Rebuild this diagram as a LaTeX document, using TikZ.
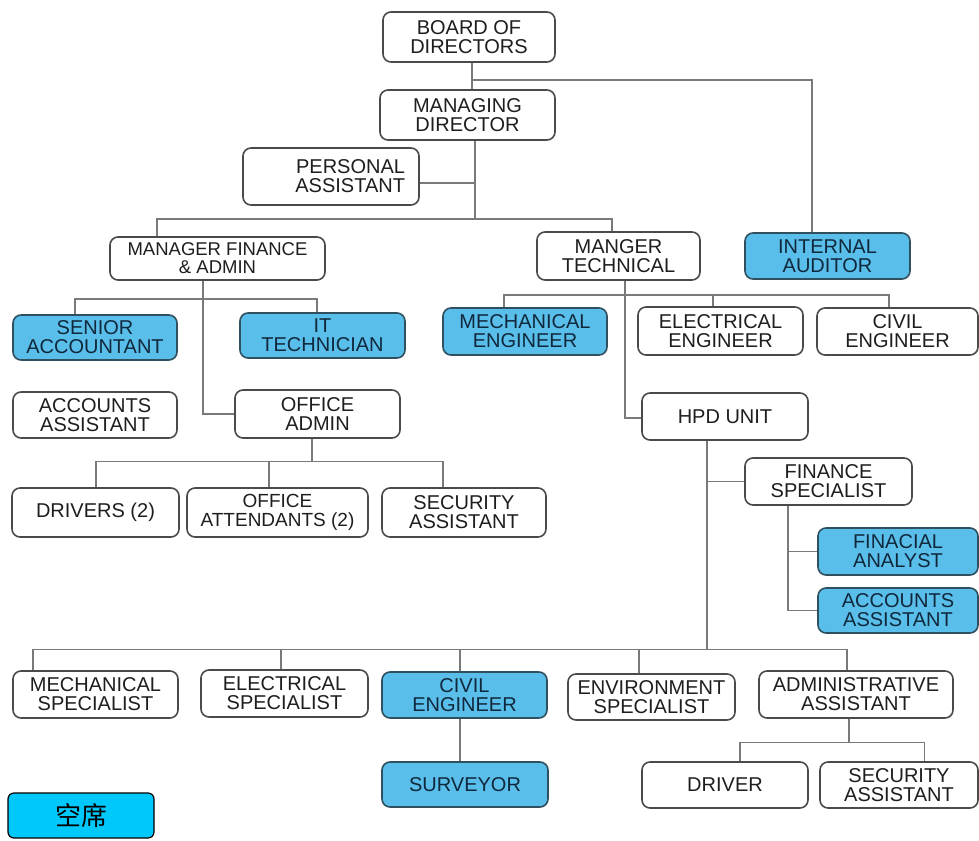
\documentclass[tikz,border=0pt]{standalone}
\usepackage{fontspec}
\setmainfont{Liberation Sans}
\newfontfamily\cjkfont{Noto Sans CJK SC}
\definecolor{boxline}{HTML}{4A4A4A}
\definecolor{linkcol}{HTML}{7A7A7A}
\definecolor{hiblue}{HTML}{5ABEEA}
\definecolor{hiline}{HTML}{30505F}
\definecolor{textcol}{HTML}{1E1E1E}
\definecolor{hitext}{HTML}{10283C}
\definecolor{vaccyan}{HTML}{00C8FA}
\newcommand\boxfont{\fontsize{20}{19}\selectfont}
\tikzset{
  box/.style={draw=boxline, line width=1.6pt, rounded corners=8pt, fill=white,
    align=center, inner xsep=2pt, inner ysep=0pt, font=\boxfont, text=textcol},
  hibox/.style={box, fill=hiblue, draw=hiline, text=hitext},
  sz/.style 2 args={minimum width=#1pt, minimum height=#2pt},
  link/.style={draw=linkcol, line width=1.1pt},
}
\begin{document}
\begin{tikzpicture}[x=1pt, y=-1pt]
\useasboundingbox (0,0) rectangle (979,840);

% ---- boxes ----
\node[box, sz={172}{50}] (board) at (469,37) {BOARD OF\\DIRECTORS};
\node[box, sz={175}{50}] (md) at (467.5,115) {MANAGING\\DIRECTOR};
\node[box, sz={176}{57}, text width=148pt, align=right, inner xsep=14pt] (pa) at (331,176.5) {PERSONAL\\ASSISTANT};
\node[box, sz={215}{43}, font=\fontsize{18.5}{18}\selectfont] (mfa) at (217.5,258.5) {MANAGER FINANCE\\\& ADMIN};
\node[box, sz={163}{48}] (mt) at (618.5,256) {MANGER\\TECHNICAL};
\node[hibox, sz={165}{46}] (ia) at (827.5,256) {INTERNAL\\AUDITOR};

\node[hibox, sz={164}{45}] (sa) at (95,337.5) {SENIOR\\ACCOUNTANT};
\node[hibox, sz={165}{45}] (it) at (322.5,335.5) {IT\\TECHNICIAN};
\node[hibox, sz={164}{47}] (me) at (525,331.5) {MECHANICAL\\ENGINEER};
\node[box, sz={165}{48}] (ee) at (720.5,331) {ELECTRICAL\\ENGINEER};
\node[box, sz={161}{47}] (ce) at (897.5,331.5) {CIVIL\\ENGINEER};

\node[box, sz={164}{46}] (aa) at (95,415) {ACCOUNTS\\ASSISTANT};
\node[box, sz={165}{48}] (oa) at (317.5,414) {OFFICE\\ADMIN};
\node[box, sz={166}{47}] (hpd) at (725,416.5) {HPD UNIT};

\node[box, sz={167}{49}] (drv) at (95.5,512.5) {DRIVERS (2)};
\node[box, sz={181}{49}, font=\fontsize{19}{19}\selectfont] (att) at (277.5,512.5) {OFFICE\\ATTENDANTS (2)};
\node[box, sz={164}{49}] (sec) at (464,512.5) {SECURITY\\ASSISTANT};

\node[box, sz={167}{47}] (fs) at (828.5,481.5) {FINANCE\\SPECIALIST};
\node[hibox, sz={160}{47}] (fa) at (898,551.5) {FINACIAL\\ANALYST};
\node[hibox, sz={160}{45}] (aa2) at (898,610.5) {ACCOUNTS\\ASSISTANT};

\node[box, sz={165}{47}] (ms) at (95.5,694.5) {MECHANICAL\\SPECIALIST};
\node[box, sz={167}{47}] (es) at (284.5,693.5) {ELECTRICAL\\SPECIALIST};
\node[hibox, sz={165}{46}] (ce2) at (464.5,695) {CIVIL\\ENGINEER};
\node[box, sz={167}{46}] (env) at (651.5,697) {ENVIRONMENT\\SPECIALIST};
\node[box, sz={194}{47}] (adm) at (856,694.5) {ADMINISTRATIVE\\ASSISTANT};

\node[hibox, sz={166}{45}] (sur) at (465,784.5) {SURVEYOR};
\node[box, sz={166}{46}] (drv2) at (725,785) {DRIVER};
\node[box, sz={158}{46}] (sec2) at (899,785) {SECURITY\\ASSISTANT};

\node[draw=black, line width=1.2pt, fill=vaccyan, rounded corners=6pt,
      sz={146}{45}, font=\cjkfont\fontsize{26}{28}\selectfont] (vac) at (81,815.5) {空席};

% ---- connectors ----
% board to managing director, and to the internal auditor
\coordinate (j0) at (472,80);
\draw[link] ([xshift=3pt]board.south) -- ([xshift=3pt]board.south |- md.north);
\draw[link] (j0) -| ([xshift=-15.5pt]ia.north);

% managing director trunk, personal assistant, two managers
\coordinate (t1) at (475,219);
\draw[link] ([xshift=7.5pt]md.south) -- (t1);
\draw[link] ([yshift=-6.5pt]pa.east) -- ([yshift=-6.5pt]pa.east -| t1);
\draw[link] ([xshift=-60.5pt]mfa.north) |- (t1) -| ([xshift=-6.5pt]mt.north);

% finance & admin branch
\coordinate (f1) at (203,299);
\draw[link] ([xshift=-14.5pt]mfa.south) |- (oa.west);
\draw[link] ([xshift=-20pt]sa.north) |- (f1) -| ([xshift=-5.5pt]it.north);

% office admin branch
\draw[link] ([xshift=-5.5pt]oa.south) -- ++(0,23) coordinate (o1);
\draw[link] ([xshift=0.5pt]drv.north) |- (o1) -| ([xshift=-8.5pt]att.north);
\draw[link] (o1) -| ([xshift=-21pt]sec.north);

% technical branch
\coordinate (m1) at (625,295);
\draw[link] ([xshift=6.5pt]mt.south) |- ([yshift=-1.5pt]hpd.west);
\draw[link] ([xshift=-21pt]me.north) |- (m1) -| ([xshift=-8.5pt]ce.north);
\draw[link] ([xshift=-7.5pt]ee.north) -- ([xshift=-7.5pt]ee.north |- m1);

% HPD unit branch
\draw[link] ([xshift=-18pt]hpd.south) -- ++(0,209) coordinate (h1);
\draw[link] ([xshift=-18pt]hpd.south |- fs.west) -- (fs.west);
\draw[link] ([xshift=-40.5pt]fs.south) |- (aa2.west);
\draw[link] ([xshift=-40.5pt]fs.south |- fa.west) -- (fa.west);

% specialists row
\draw[link] ([xshift=-62.5pt]ms.north) |- (h1) -| ([xshift=-9pt]adm.north);
\draw[link] ([xshift=-3.5pt]es.north) -- ([xshift=-3.5pt]es.north |- h1);
\draw[link] ([xshift=-4.5pt]ce2.north) -- ([xshift=-4.5pt]ce2.north |- h1);
\draw[link] ([xshift=-12.5pt]env.north) -- ([xshift=-12.5pt]env.north |- h1);
\draw[link] ([xshift=-4.5pt]ce2.south) -- ([xshift=-5pt]sur.north);

% administrative assistant branch
\draw[link] ([xshift=-7pt]adm.south) -- ++(0,24) coordinate (a1);
\draw[link] ([xshift=15pt]drv2.north) |- (a1) -| ([xshift=25.5pt]sec2.north);
\end{tikzpicture}
\end{document}
